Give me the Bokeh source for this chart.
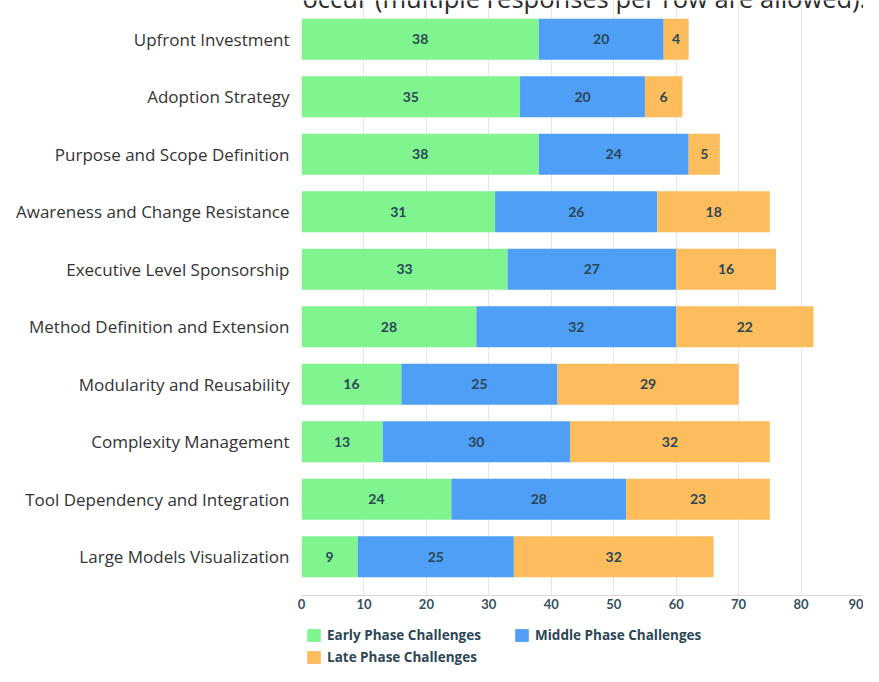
from bokeh.plotting import figure
from bokeh.layouts import column
from bokeh.models import ColumnDataSource, Legend, LegendItem, FactorRange, FixedTicker, Range1d, Label
from bokeh.core.properties import value
from bokeh.embed import file_html
from bokeh.resources import INLINE

title_text = "occur (multiple responses per row are allowed)."
categories = [
    "Upfront Investment",
    "Adoption Strategy",
    "Purpose and Scope Definition",
    "Awareness and Change Resistance",
    "Executive Level Sponsorship",
    "Method Definition and Extension",
    "Modularity and Reusability",
    "Complexity Management",
    "Tool Dependency and Integration",
    "Large Models Visualization",
]
early = [38, 35, 38, 31, 33, 28, 16, 13, 24, 9]
middle = [20, 20, 24, 26, 27, 32, 25, 30, 28, 25]
late = [4, 6, 5, 18, 16, 22, 29, 32, 23, 32]
series_names = ["Early Phase Challenges", "Middle Phase Challenges", "Late Phase Challenges"]
x_ticks = [0, 10, 20, 30, 40, 50, 60, 70, 80, 90]

colors = ["#80f58f", "#4e9ff5", "#fdbd5c"]
label_color = "#2b4655"

src = ColumnDataSource(dict(
    cat=categories,
    early=early,
    middle=middle,
    late=late,
    early_mid=[e / 2 for e in early],
    middle_mid=[e + m / 2 for e, m in zip(early, middle)],
    late_mid=[e + m + l / 2 for e, m, l in zip(early, middle, late)],
    early_txt=[str(v) for v in early],
    middle_txt=[str(v) for v in middle],
    late_txt=[str(v) for v in late],
))

p = figure(
    width=863, height=612,
    y_range=FactorRange(*categories[::-1], range_padding=0.174, range_padding_units="absolute"),
    x_range=Range1d(0, 90),
    output_backend="svg", toolbar_location=None,
    min_border_left=301, min_border_right=0, min_border_top=0, min_border_bottom=17,
)

rs = p.hbar_stack(["early", "middle", "late"], y="cat", height=0.71, color=colors,
                  line_color=None, source=src)

for key in ["early", "middle", "late"]:
    p.text(x=key + "_mid", y="cat", text=key + "_txt", source=src,
           text_align="center", text_baseline="middle",
           text_font=value("Lato"), text_font_style="bold",
           text_font_size="14px", text_color=label_color)

p.add_layout(Label(x=1, y=598, x_units="screen", y_units="screen",
                   text=title_text, text_font="Open Sans", text_font_size="25.5px",
                   text_color="#2a2a2a", text_baseline="alphabetic", text_align="left"))

p.outline_line_color = None
p.ygrid.grid_line_color = None
p.xgrid.ticker = FixedTicker(ticks=x_ticks)
p.xgrid.grid_line_color = "#e6e6e6"
p.xgrid.level = "underlay"

xa = p.xaxis[0]
xa.ticker = FixedTicker(ticks=x_ticks)
xa.axis_line_color = "#d8d8d8"
xa.major_tick_line_color = None
xa.minor_tick_line_color = None
xa.major_tick_out = 0
xa.major_tick_in = 0
xa.major_label_standoff = 3
xa.major_label_text_font = "Lato"
xa.major_label_text_font_style = "bold"
xa.major_label_text_font_size = "13px"
xa.major_label_text_color = "#35505f"

ya = p.yaxis[0]
ya.axis_line_color = None
ya.major_tick_line_color = None
ya.minor_tick_line_color = None
ya.major_tick_out = 0
ya.major_tick_in = 0
ya.major_label_standoff = 12
ya.major_label_text_font = "Open Sans"
ya.major_label_text_font_size = "17px"
ya.major_label_text_color = "#333333"

# legend strip (frame aligned with the main plot by the column layout)
lg = figure(
    width=863, height=54, x_range=Range1d(0, 1), y_range=Range1d(0, 1),
    output_backend="svg", toolbar_location=None,
    min_border_left=0, min_border_right=0, min_border_top=0, min_border_bottom=0,
)
lg.axis.visible = False
lg.grid.visible = False
lg.outline_line_color = None
lrs = [lg.hbar(y=[0], right=[0], height=0, fill_color=c, line_color=None) for c in colors]

legend = Legend(
    items=[LegendItem(label=n, renderers=[r]) for n, r in zip(series_names, lrs)],
    location=(4, 0), orientation="horizontal", ncols=2,
    glyph_width=17, glyph_height=16, label_height=16, label_standoff=5,
    label_width=182, spacing=4, padding=0, margin=0,
    border_line_color=None, background_fill_alpha=0,
    label_text_font="Open Sans", label_text_font_style="bold",
    label_text_font_size="13.5px", label_text_color=label_color,
)
lg.add_layout(legend, "center")

layout = column(p, lg, spacing=0)
open("out.html", "w").write(file_html(layout, INLINE))
